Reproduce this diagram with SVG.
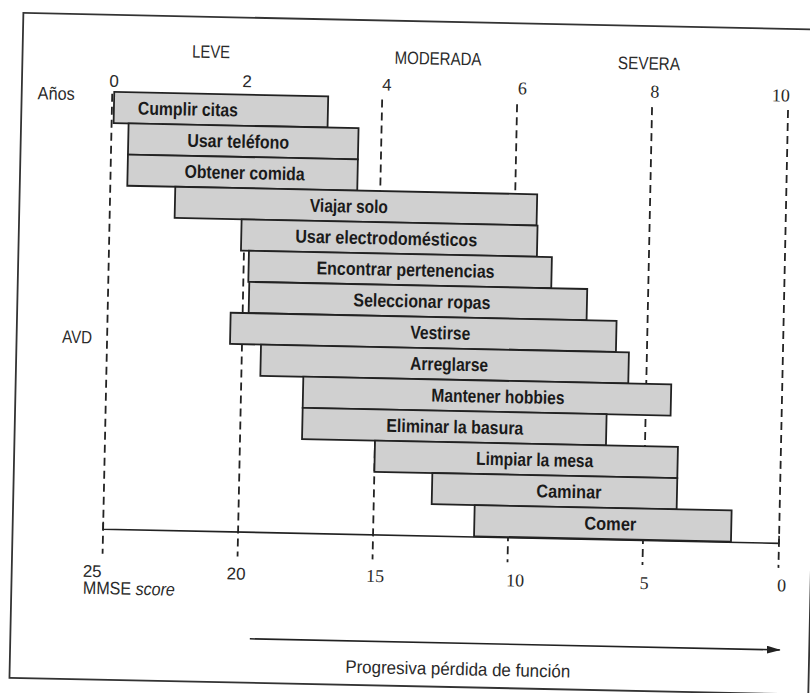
<svg xmlns="http://www.w3.org/2000/svg" width="810" height="693" viewBox="0 0 810 693">
<defs>
<style>
.bar{fill:#d0d0d0;stroke:#222;stroke-width:1.8}
.lbl{font-family:"Liberation Sans",Arial,sans-serif;font-weight:bold;font-size:18.5px;fill:#1a1a1a;text-anchor:middle}
.hdr{font-family:"Liberation Sans",Arial,sans-serif;font-size:18px;fill:#2a2a2a;text-anchor:middle}
.hdrs{font-family:"Liberation Sans",Arial,sans-serif;font-size:18px;fill:#2a2a2a;text-anchor:start}
.num{font-family:"Liberation Sans",Arial,sans-serif;font-size:17px;fill:#2a2a2a;text-anchor:middle}
.nums{font-family:"Liberation Serif","Times New Roman",serif;font-size:18px;fill:#2a2a2a;text-anchor:middle}
.dash{stroke:#222;stroke-width:1.8;stroke-dasharray:8 5;fill:none}
.solid{stroke:#222;stroke-width:1.6;fill:none}
</style>
<marker id="ah" markerWidth="14" markerHeight="8" refX="13" refY="4" orient="auto" markerUnits="userSpaceOnUse">
<path d="M0,0 L14,4 L0,8 Z" fill="#222"/>
</marker>
</defs>
<rect width="810" height="693" fill="#fff"/>
<g transform="rotate(1.2 405 346)">
<rect x="16.5" y="21" width="799" height="665" fill="none" stroke="#333" stroke-width="1.8"/>

<g id="connectors">
<line class="dash" x1="107" y1="100" x2="107" y2="560"/>
<line class="dash" x1="242" y1="100" x2="242" y2="560"/>
<line class="dash" x1="377" y1="100" x2="377" y2="560"/>
<line class="dash" x1="512" y1="102" x2="512" y2="560"/>
<line class="dash" x1="647" y1="102" x2="647" y2="560"/>
<line class="dash" x1="783" y1="102" x2="783" y2="560"/>
<polyline class="solid" points="107,528 107,535.5 783,535.5 783,528"/>
<line class="solid" x1="256" y1="642" x2="786" y2="642" marker-end="url(#ah)"/>
</g>

<g id="labels">
<text class="hdr" x="205" y="62" textLength="38" lengthAdjust="spacingAndGlyphs">LEVE</text>
<text class="hdr" x="432" y="64" textLength="87" lengthAdjust="spacingAndGlyphs">MODERADA</text>
<text class="hdr" x="643" y="64.5" textLength="62" lengthAdjust="spacingAndGlyphs">SEVERA</text>
<text class="hdr" x="51" y="107" font-size="16" textLength="37" lengthAdjust="spacingAndGlyphs">Años</text>
<text class="hdr" x="77" y="350" font-size="17" textLength="30" lengthAdjust="spacingAndGlyphs">AVD</text>
<text class="num" x="108.5" y="93">0</text>
<text class="num" x="241.5" y="90.5">2</text>
<text class="num" x="381.5" y="91">4</text>
<text class="nums" x="517" y="92">6</text>
<text class="nums" x="649.5" y="92.5">8</text>
<text class="nums" x="775.5" y="93.5">10</text>
<text class="num" x="97" y="583.5">25</text>
<text class="num" x="241" y="583">20</text>
<text class="nums" x="380" y="582.5">15</text>
<text class="nums" x="520" y="584">10</text>
<text class="nums" x="649" y="584">5</text>
<text class="nums" x="786.5" y="583.5">0</text>
<text class="hdrs" x="88" y="600.5" font-size="17" textLength="92" lengthAdjust="spacingAndGlyphs">MMSE <tspan font-style="italic">score</tspan></text>
<text class="hdrs" x="352" y="674" textLength="225" lengthAdjust="spacingAndGlyphs">Progresiva pérdida de función</text>
</g>

<g id="cumplir-citas"><rect class="bar" x="109" y="98" width="214" height="31.2"/><text class="lbl" x="183" y="120.1" textLength="100" lengthAdjust="spacingAndGlyphs">Cumplir citas</text></g>
<g id="usar-telefono"><rect class="bar" x="124" y="129.2" width="230" height="31.2"/><text class="lbl" x="234" y="151.3" textLength="102" lengthAdjust="spacingAndGlyphs">Usar teléfono</text></g>
<g id="obtener-comida"><rect class="bar" x="124" y="160.4" width="230" height="31.2"/><text class="lbl" x="241" y="182.5" textLength="120" lengthAdjust="spacingAndGlyphs">Obtener comida</text></g>
<g id="viajar-solo"><rect class="bar" x="172" y="191.6" width="362" height="31.2"/><text class="lbl" x="346" y="213.7" textLength="78" lengthAdjust="spacingAndGlyphs">Viajar solo</text></g>
<g id="usar-electrodomesticos"><rect class="bar" x="239" y="222.8" width="296" height="31.2"/><text class="lbl" x="384" y="244.9" textLength="182" lengthAdjust="spacingAndGlyphs">Usar electrodomésticos</text></g>
<g id="encontrar-pertenencias"><rect class="bar" x="247" y="254" width="303" height="31.2"/><text class="lbl" x="404" y="276.1" textLength="178" lengthAdjust="spacingAndGlyphs">Encontrar pertenencias</text></g>
<g id="seleccionar-ropas"><rect class="bar" x="248" y="285.2" width="338" height="31.2"/><text class="lbl" x="421" y="307.3" textLength="137" lengthAdjust="spacingAndGlyphs">Seleccionar ropas</text></g>
<g id="vestirse"><rect class="bar" x="230" y="316.4" width="386" height="31.2"/><text class="lbl" x="440" y="338.5" textLength="60" lengthAdjust="spacingAndGlyphs">Vestirse</text></g>
<g id="arreglarse"><rect class="bar" x="261" y="347.6" width="368" height="31.2"/><text class="lbl" x="449.5" y="369.7" textLength="78" lengthAdjust="spacingAndGlyphs">Arreglarse</text></g>
<g id="mantener-hobbies"><rect class="bar" x="304" y="378.8" width="368" height="31.2"/><text class="lbl" x="499" y="400.9" textLength="133" lengthAdjust="spacingAndGlyphs">Mantener hobbies</text></g>
<g id="eliminar-la-basura"><rect class="bar" x="304" y="410" width="304" height="31.2"/><text class="lbl" x="456.5" y="432.1" textLength="137" lengthAdjust="spacingAndGlyphs">Eliminar la basura</text></g>
<g id="limpiar-la-mesa"><rect class="bar" x="377" y="441.2" width="303" height="31.2"/><text class="lbl" x="537" y="463.3" textLength="117" lengthAdjust="spacingAndGlyphs">Limpiar la mesa</text></g>
<g id="caminar"><rect class="bar" x="435" y="472.4" width="245" height="31.2"/><text class="lbl" x="572" y="494.5" textLength="65" lengthAdjust="spacingAndGlyphs">Caminar</text></g>
<g id="comer"><rect class="bar" x="478" y="503.6" width="257" height="31.2"/><text class="lbl" x="614" y="525.7" textLength="52" lengthAdjust="spacingAndGlyphs">Comer</text></g>
</g>
</svg>
